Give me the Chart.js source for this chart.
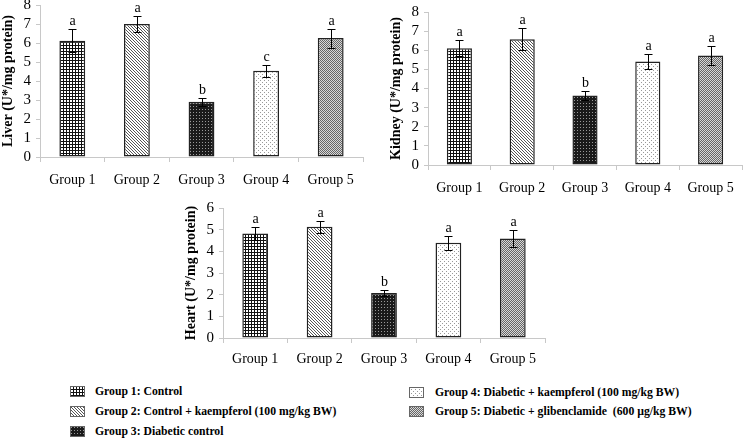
<!DOCTYPE html>
<html>
<head>
<meta charset="utf-8">
<script src="https://cdn.jsdelivr.net/npm/chart.js@4.4.1/dist/chart.umd.min.js"></script>
<style>
body { margin: 0; background: #fff; width: 750px; height: 440px; position: relative; overflow: hidden; font-family: "Liberation Serif", "Times New Roman", serif; }
canvas.panel { position: absolute; }
.leg { position: absolute; font-weight: bold; font-size: 11.7px; line-height: 14px; white-space: pre; color: #000; }
.box { position: absolute; }
</style>
</head>
<body>
<canvas id="liver" class="panel" width="375" height="195" style="left:0;top:0"></canvas>
<canvas id="kidney" class="panel" width="375" height="195" style="left:375px;top:0"></canvas>
<canvas id="heart" class="panel" width="400" height="175" style="left:170px;top:195px"></canvas>

<canvas class="box" id="lg0" width="15" height="11" style="left:70px;top:386px"></canvas>
<div class="leg" style="left:95px;top:385px">Group 1: Control</div>
<canvas class="box" id="lg1" width="15" height="11" style="left:70px;top:406px"></canvas>
<div class="leg" style="left:95px;top:405px">Group 2: Control + kaempferol (100 mg/kg BW)</div>
<canvas class="box" id="lg2" width="15" height="11" style="left:70px;top:426px"></canvas>
<div class="leg" style="left:95px;top:425px">Group 3: Diabetic control</div>
<canvas class="box" id="lg3" width="15" height="11" style="left:409px;top:387px"></canvas>
<div class="leg" style="left:435px;top:386px">Group 4: Diabetic + kaempferol (100 mg/kg BW)</div>
<canvas class="box" id="lg4" width="15" height="11" style="left:409px;top:406px"></canvas>
<div class="leg" style="left:435px;top:405px">Group 5: Diabetic + glibenclamide  (600 µg/kg BW)</div>

<script>
// data
var groups = ['Group 1', 'Group 2', 'Group 3', 'Group 4', 'Group 5'];

var liverMean = [6.12, 7.00, 2.91, 4.54, 6.26];
var liverErr = [0.60, 0.42, 0.22, 0.32, 0.50];
var liverLetters = ['a', 'a', 'b', 'c', 'a'];

var kidneyMean = [6.11, 6.58, 3.63, 5.41, 5.72];
var kidneyErr = [0.40, 0.56, 0.22, 0.40, 0.48];
var kidneyLetters = ['a', 'a', 'b', 'a', 'a'];

var heartMean = [4.82, 5.14, 2.08, 4.40, 4.59];
var heartErr = [0.28, 0.28, 0.12, 0.32, 0.41];
var heartLetters = ['a', 'a', 'b', 'a', 'a'];

var serif = '"Liberation Serif", "Times New Roman", serif';
Chart.defaults.font.family = serif;
Chart.defaults.color = '#000';

// hatch fills, one per group
function makePattern(ctx, kind) {
    var c = document.createElement('canvas');
    var g = c.getContext('2d');
    if (kind === 0) {          // grid
        c.width = 3; c.height = 3;
        g.fillStyle = '#fff'; g.fillRect(0, 0, 3, 3);
        g.fillStyle = '#111'; g.fillRect(0, 0, 3, 1); g.fillRect(0, 0, 1, 3);
    } else if (kind === 1) {   // diagonal lines
        c.width = 3; c.height = 3;
        g.fillStyle = '#fff'; g.fillRect(0, 0, 3, 3);
        g.fillStyle = '#555';
        g.fillRect(0, 0, 1, 1); g.fillRect(1, 1, 1, 1); g.fillRect(2, 2, 1, 1);
    } else if (kind === 2) {   // dark with light dots
        c.width = 3; c.height = 3;
        g.fillStyle = '#1a1a1a'; g.fillRect(0, 0, 3, 3);
        g.fillStyle = '#999'; g.fillRect(1, 1, 1, 1);
    } else if (kind === 3) {   // sparse dots
        c.width = 4; c.height = 4;
        g.fillStyle = '#fff'; g.fillRect(0, 0, 4, 4);
        g.fillStyle = '#999'; g.fillRect(0, 0, 1, 1); g.fillRect(2, 2, 1, 1);
    } else {                   // grey checker
        c.width = 2; c.height = 2;
        g.fillStyle = '#d8d8d8'; g.fillRect(0, 0, 2, 2);
        g.fillStyle = '#666'; g.fillRect(0, 0, 1, 1); g.fillRect(1, 1, 1, 1);
    }
    return ctx.createPattern(c, 'repeat');
}

var errorBars = {
    id: 'errorBars',
    afterDatasetsDraw: function (chart) {
        var ctx = chart.ctx;
        var y = chart.scales.y;
        var ds = chart.data.datasets[0];
        var meta = chart.getDatasetMeta(0);
        ctx.save();
        ctx.strokeStyle = '#000';
        ctx.lineWidth = 1;
        ctx.fillStyle = '#000';
        ctx.font = '14px ' + serif;
        ctx.textAlign = 'center';
        meta.data.forEach(function (bar, i) {
            var hi = Math.round(y.getPixelForValue(ds.data[i] + ds.errors[i])) + 0.5;
            var lo = Math.round(y.getPixelForValue(ds.data[i] - ds.errors[i])) + 0.5;
            var x = Math.round(bar.x) + 0.5;
            ctx.beginPath();
            ctx.moveTo(x, hi); ctx.lineTo(x, lo);
            ctx.moveTo(x - 4, hi); ctx.lineTo(x + 4, hi);
            ctx.moveTo(x - 4, lo); ctx.lineTo(x + 4, lo);
            ctx.stroke();
            ctx.fillText(ds.letters[i], x, hi - 5);
        });
        ctx.restore();
    }
};

function drawPanel(id, title, means, errs, letters, yMax, box) {
    var ctx = document.getElementById(id).getContext('2d');
    return new Chart(ctx, {
        type: 'bar',
        data: {
            labels: groups,
            datasets: [{
                data: means,
                errors: errs,
                letters: letters,
                backgroundColor: [0, 1, 2, 3, 4].map(function (k) { return makePattern(ctx, k); }),
                borderColor: '#222',
                borderWidth: 1.5,
                borderSkipped: false,
                barPercentage: 0.4,
                categoryPercentage: 1
            }]
        },
        options: {
            responsive: false,
            animation: false,
            events: [],
            layout: { padding: { top: box.top, right: box.right, left: 0, bottom: 0 } },
            plugins: { legend: { display: false }, tooltip: { enabled: false } },
            scales: {
                x: {
                    grid: { drawOnChartArea: false, tickLength: 5, color: '#c8c8c8' },
                    border: { color: '#c8c8c8' },
                    ticks: { font: { size: 14 }, padding: box.xpad, maxRotation: 0 },
                    afterFit: function (s) { s.height = box.xh; s.paddingLeft = 0; s.paddingRight = 0; }
                },
                y: {
                    min: 0,
                    max: yMax,
                    grid: { drawOnChartArea: false, tickLength: 4, color: '#c8c8c8' },
                    border: { color: '#c8c8c8' },
                    ticks: { stepSize: 1, autoSkip: false, font: { size: 15 }, padding: 5 },
                    title: { display: true, text: title, font: { size: 14, weight: 'bold' }, padding: { top: box.tpad, bottom: 0 } },
                    afterFit: function (s) { s.width = box.w; s.paddingTop = 0; s.paddingBottom = 0; }
                }
            }
        },
        plugins: [errorBars]
    });
}

drawPanel('liver', 'Liver (U*/mg protein)', liverMean, liverErr, liverLetters, 8,
    { w: 40, top: 5, right: 12, xh: 38, xpad: 10, tpad: 0 });
drawPanel('kidney', 'Kidney (U*/mg protein)', kidneyMean, kidneyErr, kidneyLetters, 8,
    { w: 53, top: 12, right: 8, xh: 30, xpad: 10, tpad: 13 });
drawPanel('heart', 'Heart (U*/mg protein)', heartMean, heartErr, heartLetters, 6,
    { w: 53, top: 13, right: 25, xh: 32, xpad: 8, tpad: 13 });

// legend swatches
for (var k = 0; k < 5; k++) {
    var cv = document.getElementById('lg' + k);
    var g = cv.getContext('2d');
    g.fillStyle = makePattern(g, k);
    g.fillRect(0, 0, 15, 11);
    g.strokeStyle = '#666';
    g.lineWidth = 1;
    g.strokeRect(0.5, 0.5, 14, 10);
}
</script>
</body>
</html>
